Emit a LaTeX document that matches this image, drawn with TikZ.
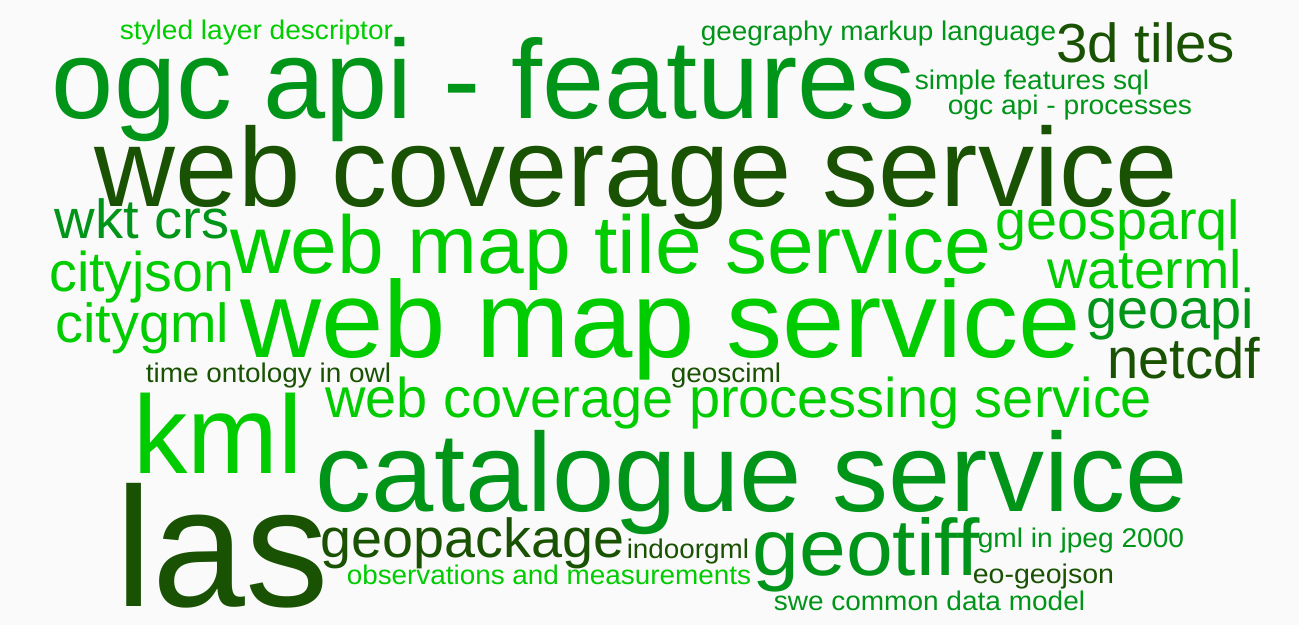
\documentclass[tikz,border=0pt]{standalone}
\usepackage{fontspec}
\setmainfont{Liberation Sans}
\usepackage{graphicx}
\definecolor{cdark}{HTML}{1A5203}
\definecolor{cmid}{HTML}{009419}
\definecolor{cbright}{HTML}{00CC00}
\definecolor{bgc}{HTML}{FAFAFA}
\tikzset{cloudword/.style={anchor=base west, inner sep=0pt, outer sep=0pt}}
% #1 name, #2 ink left x, #3 baseline y, #4 ink width, #5 font size, #6 colour, #7 text
\newcommand\cw[7]{%
  \pgfmathsetlengthmacro\cwW{#4+0.085*#5}%
  \pgfmathsetlengthmacro\cwX{#2-0.045*#5}%
  \node[cloudword, text=#6] (#1) at (\cwX, -#3pt)
    {\resizebox{\cwW}{\height}{\fontsize{#5pt}{#5pt}\selectfont #7}};}
\begin{document}
\begin{tikzpicture}
\fill[bgc] (0,0) rectangle (1299pt,-625pt);
\useasboundingbox (0,0) rectangle (1299pt,-625pt);
\cw{sld}{121}{39}{271}{27}{cbright}{styled layer descriptor}
\cw{ogcf}{57}{118}{854}{112}{cmid}{ogc api - features}
\cw{gml}{702}{40}{353}{27}{cmid}{geegraphy markup language}
\cw{tiles}{1059}{62}{174}{55}{cdark}{3d tiles}
\cw{sfs}{916}{89}{232}{27}{cmid}{simple features sql}
\cw{ogcp}{949}{114}{242}{27}{cmid}{ogc api - processes}
\cw{wcs}{100}{206}{1073}{112}{cdark}{web coverage service}
\cw{wkt}{57}{238}{170}{55}{cmid}{wkt crs}
\cw{wmts}{234}{273}{754}{82}{cbright}{web map tile service}
\cw{geosparql}{998}{239}{240}{55}{cbright}{geosparql}
\cw{cityjson}{52}{291}{180}{56}{cbright}{cityjson}
\cw{waterml}{1050}{288}{190}{54}{cbright}{waterml}
\cw{citygml}{58}{342}{169}{55}{cbright}{citygml}
\cw{wms}{245}{357}{832}{109}{cbright}{web map service}
\cw{geoapi}{1089}{328}{163}{56}{cmid}{geoapi}
\cw{netcdf}{1110}{378}{148}{57}{cdark}{netcdf}
\cw{tio}{147}{382}{243}{27}{cdark}{time ontology in owl}
\cw{geosciml}{672}{382}{108}{27}{cdark}{geosciml}
\cw{wcps}{328}{417}{822}{56}{cbright}{web coverage processing service}
\cw{kml}{138}{473}{160}{111}{cbright}{kml}
\cw{cat}{321}{511}{862}{112}{cmid}{catalogue service}
\cw{las}{123}{606}{199}{170}{cdark}{las}
\cw{geopackage}{323}{557}{299}{55}{cdark}{geopackage}
\cw{indoorgml}{628}{558}{120}{27}{cdark}{indoorgml}
\cw{geotiff}{756}{575}{221}{80}{cmid}{geotiff}
\cw{gmljp}{979}{547}{204}{27}{cmid}{gml in jpeg 2000}
\cw{om}{348}{584}{402}{27}{cbright}{observations and measurements}
\cw{eogeojson}{974}{583}{139}{27}{cdark}{eo-geojson}
\cw{swe}{775}{610}{309}{27}{cmid}{swe common data model}
\end{tikzpicture}
\end{document}
